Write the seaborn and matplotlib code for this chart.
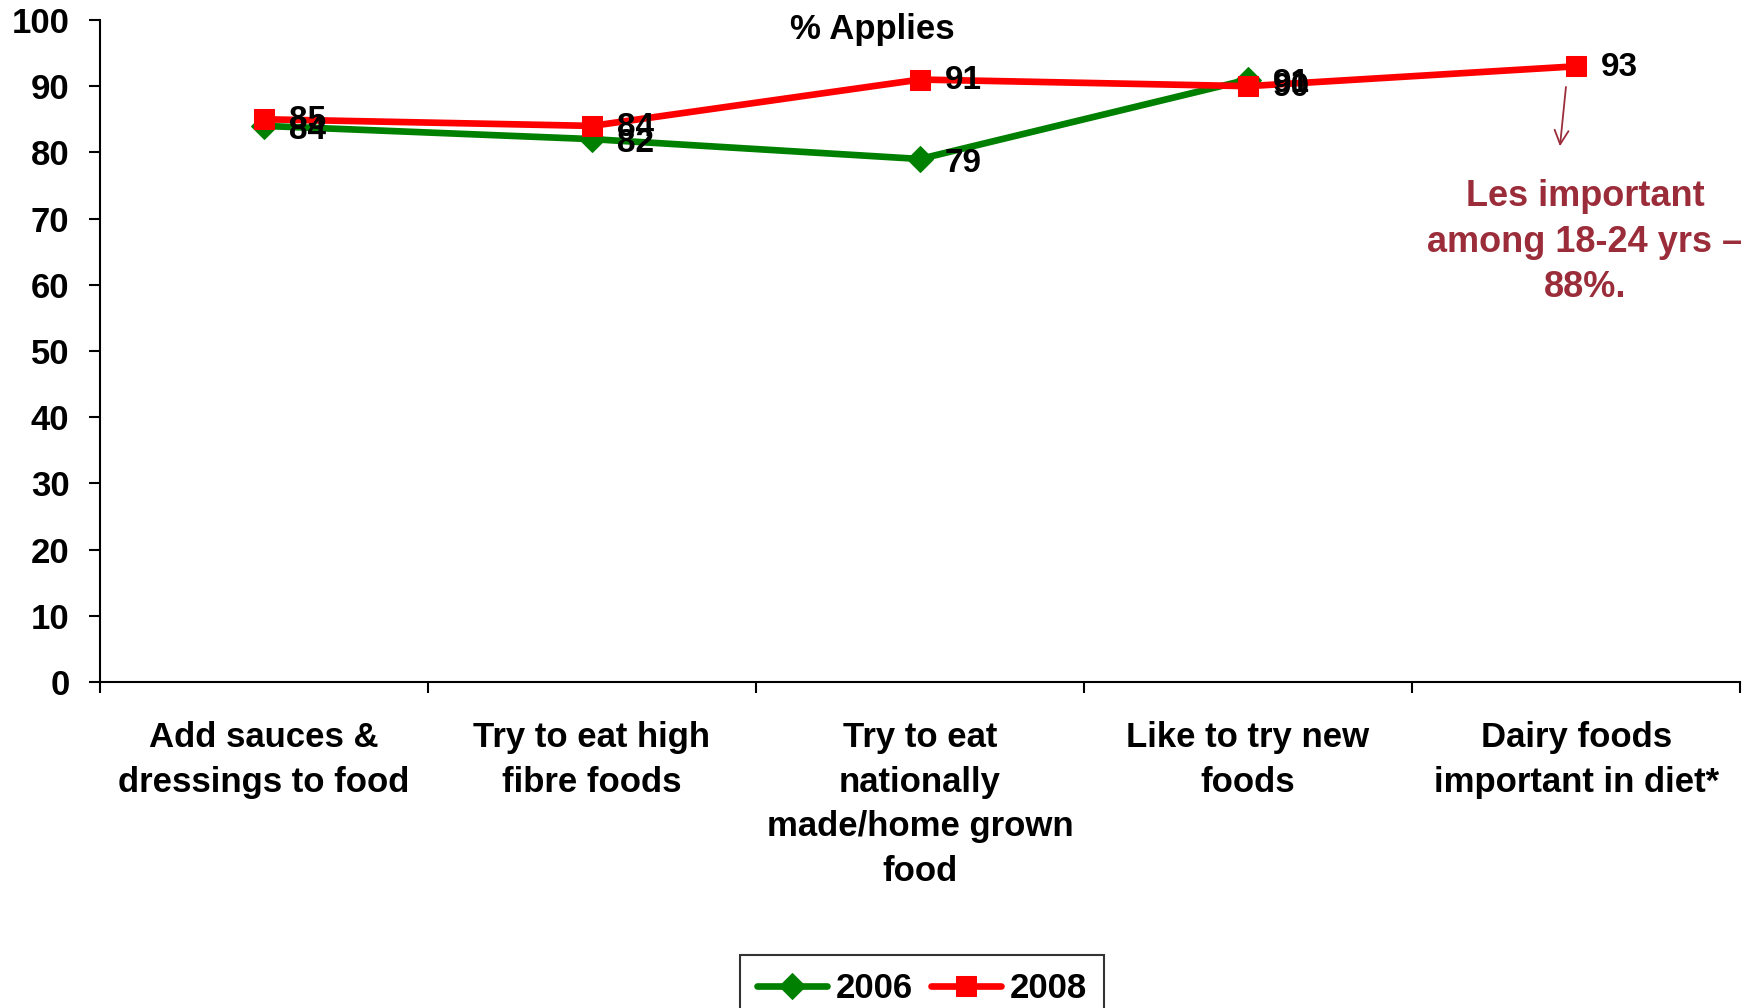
import numpy as np
import pandas as pd
import matplotlib
matplotlib.use("Agg")
import matplotlib.pyplot as plt
import seaborn as sns

categories = [
    "Add sauces &\ndressings to food",
    "Try to eat high\nfibre foods",
    "Try to eat\nnationally\nmade/home grown\nfood",
    "Like to try new\nfoods",
    "Dairy foods\nimportant in diet*",
]
values_2006 = [84, 82, 79, 91, np.nan]
values_2008 = [85, 84, 91, 90, 93]
y_ticks = list(range(0, 101, 10))

sns.set_theme(style="white")
plt.rcParams["font.family"] = ["Liberation Sans", "DejaVu Sans"]
plt.rcParams["font.weight"] = "bold"
plt.rcParams["text.color"] = "black"
plt.rcParams["xtick.color"] = "black"
plt.rcParams["ytick.color"] = "black"
plt.rcParams["xtick.labelcolor"] = "black"
plt.rcParams["ytick.labelcolor"] = "black"

fig = plt.figure(figsize=(17.63, 10.08), dpi=100)
ax = fig.add_axes([0.0567, 0.3234, 0.9303, 0.6568])

pos = np.arange(len(categories))
df06 = pd.DataFrame({"pos": pos, "value": values_2006})
df08 = pd.DataFrame({"pos": pos, "value": values_2008})

green = "#008000"
red = "#FF0000"
sns.lineplot(data=df06.dropna(), x="pos", y="value", ax=ax, color=green,
             marker="D", markersize=13, markeredgecolor=green, linewidth=4.8,
             label="2006")
sns.lineplot(data=df08, x="pos", y="value", ax=ax, color=red,
             marker="s", markersize=14, markeredgecolor=red, linewidth=4.8,
             label="2008")

# value labels to the right of each point
for x, v in zip(pos, values_2006):
    if not np.isnan(v):
        ax.annotate(f"{v:.0f}", (x, v), xytext=(18, -3), textcoords="offset points",
                    ha="left", va="center", fontsize=24, fontweight="bold", color="black")
for x, v in zip(pos, values_2008):
    ax.annotate(f"{v:.0f}", (x, v), xytext=(18, -1), textcoords="offset points",
                ha="left", va="center", fontsize=24, fontweight="bold", color="black")

ax.set_xlim(-0.5, len(categories) - 0.5)
ax.set_ylim(0, 100)
ax.set_yticks(y_ticks)
ax.set_yticklabels([str(t) for t in y_ticks], fontsize=25, fontweight="bold")
ax.tick_params(axis="y", direction="out", length=8, width=1.5, color="black", pad=14, left=True)

# category labels at centres, tick marks at bin edges
ax.set_xticks(pos)
ax.set_xticklabels(categories, fontsize=25, fontweight="bold", linespacing=1.45, va="top")
ax.tick_params(axis="x", which="major", length=0, pad=28)
ax.set_xticks(np.arange(-0.5, len(categories), 1.0), minor=True)
ax.tick_params(axis="x", which="minor", direction="out", length=8, width=1.5, color="black", bottom=True)

ax.set_xlabel("")
ax.set_ylabel("")
for side in ["top", "right"]:
    ax.spines[side].set_visible(False)
for side in ["left", "bottom"]:
    ax.spines[side].set_color("black")
    ax.spines[side].set_linewidth(1.5)
ax.grid(False)

fig.text(872 / 1763, 1 - 30 / 1008, "% Applies", ha="center", va="center",
         fontsize=25, fontweight="bold")

# note about the dairy figure
note_color = "#9B2D3A"
ax.annotate("", xy=(3.95, 80.5), xytext=(3.97, 90.3),
            arrowprops=dict(arrowstyle="->", color=note_color, lw=1.3,
                            mutation_scale=25))
fig.text(1585 / 1763, 1 - 242 / 1008, "Les important\namong 18-24 yrs \u2013\n88%.",
         ha="center", va="center", fontsize=26, fontweight="bold", color=note_color,
         linespacing=1.4)

leg = ax.legend(loc="upper center", bbox_to_anchor=(922 / 1763, 1 - 955 / 1008),
                bbox_transform=fig.transFigure, borderaxespad=0, ncol=2,
                frameon=True, fancybox=False,
                prop={"size": 25, "weight": "bold"}, handlelength=2.0,
                columnspacing=0.55, handletextpad=0.25, borderpad=0.5)
leg.get_frame().set_edgecolor("black")
leg.get_frame().set_linewidth(1.5)

fig.savefig("out.png", dpi=100, facecolor="white")
